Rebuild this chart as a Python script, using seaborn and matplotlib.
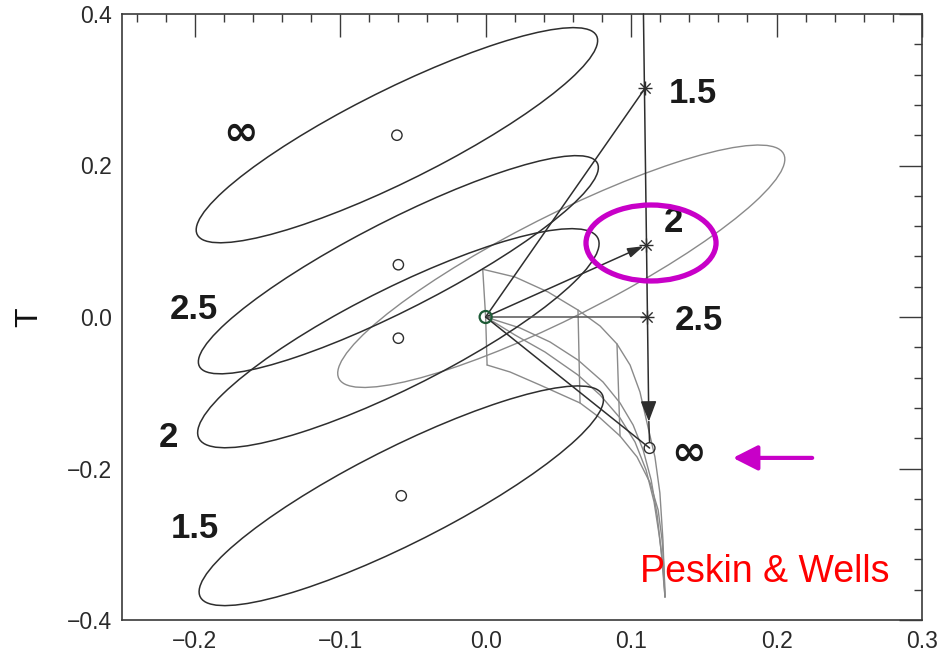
import numpy as np
import pandas as pd
import matplotlib
matplotlib.use("Agg")
import matplotlib.pyplot as plt
from matplotlib.patches import Ellipse
from matplotlib.ticker import FixedLocator, MultipleLocator, FixedFormatter
import seaborn as sns

# Fit contours in the S-T plane, one per cutoff value (centre, spreads, correlation)
fit_labels = ["∞", "2.5", "2", "1.5"]
fit_S = [-0.061, -0.060, -0.060, -0.058]
fit_T = [0.240, 0.069, -0.028, -0.236]
fit_sigS = [0.138, 0.1375, 0.138, 0.139]
fit_sigT = [0.142, 0.144, 0.1446, 0.145]
fit_rho = [0.880, 0.890, 0.863, 0.874]
fit_label_S = [-0.1682, -0.2004, -0.2181, -0.1998]
fit_label_T = [0.2436, -0.003, -0.1712, -0.2921]

# Measured contour (grey)
meas_S, meas_T = 0.052, 0.067
meas_sigS, meas_sigT, meas_rho = 0.1537, 0.160, 0.883

# Shifted reference points reached from the origin
shift_labels = ["1.5", "2", "2.5", "∞"]
shift_S = [0.1096, 0.1103, 0.1112, 0.1127]
shift_T = [0.302, 0.095, 0.0, -0.173]
shift_label_S = [0.1422, 0.1290, 0.1463, 0.1392]
shift_label_T = [0.2821, 0.1126, -0.0172, -0.1789]

# Vertical track through the shifted points
track_S = [0.1085, 0.1122]
track_T = [0.400, -0.138]

# Model grid (grey mesh): four curves and three connecting rungs
grid_top_S = [-0.0020, 0.0202, 0.0429, 0.0635, 0.0787, 0.0903, 0.0993, 0.1061, 0.1116, 0.1164, 0.1198, 0.1219, 0.1233]
grid_top_T = [0.0630, 0.0528, 0.0330, 0.0092, -0.0119, -0.0356, -0.0634, -0.0990, -0.1452, -0.1848, -0.2323, -0.2944, -0.3696]
grid_a_S = [0.0, 0.0237, 0.0443, 0.0635, 0.0807, 0.0924, 0.1014, 0.1083, 0.1138, 0.1179, 0.1206, 0.1233]
grid_a_T = [0.0, -0.0145, -0.0330, -0.0568, -0.0858, -0.1135, -0.1426, -0.1756, -0.2152, -0.2614, -0.3076, -0.3696]
grid_b_S = [0.0, 0.0202, 0.0408, 0.0635, 0.0787, 0.0924, 0.1027, 0.1103, 0.1158, 0.1193, 0.1219, 0.1233]
grid_b_T = [0.0, -0.0238, -0.0462, -0.0766, -0.1030, -0.1333, -0.1650, -0.2020, -0.2442, -0.2878, -0.3274, -0.3696]
grid_bot_S = [0.0010, 0.0168, 0.0374, 0.0649, 0.0787, 0.0924, 0.1041, 0.1131, 0.1186, 0.1213, 0.1227, 0.1233]
grid_bot_T = [-0.0634, -0.0726, -0.0898, -0.1135, -0.1333, -0.1571, -0.1848, -0.2191, -0.2548, -0.2944, -0.3340, -0.3696]
rung_left_S = [-0.0020, 0.0, 0.0010]
rung_left_T = [0.0630, 0.0, -0.0634]
rung_1_S = [0.0635, 0.0649]
rung_1_T = [0.0092, -0.1135]
rung_2_S = [0.0903, 0.0924]
rung_2_T = [-0.0356, -0.1571]

# Highlight annotations
ring_S, ring_T, ring_w, ring_h = 0.1137, 0.0977, 0.0894, 0.1003
pointer_S = [0.2245, 0.170]
pointer_T = -0.186
credit = "Peskin & Wells"
credit_S, credit_T = 0.1060, -0.3494

# Axes
xlim = (-0.25, 0.3)
ylim = (-0.4, 0.4)
xticks = [-0.2, -0.1, 0.0, 0.1, 0.2, 0.3]
xtick_labels = ["−0.2", "−0.1", "0.0", "0.1", "0.2", "0.3"]
yticks = [-0.4, -0.2, 0.0, 0.2, 0.4]
ytick_labels = ["−0.4", "−0.2", "0.0", "0.2", "0.4"]

sns.set_theme(style="white")
plt.rcParams["font.family"] = ["Liberation Sans", "DejaVu Sans"]

DARK = "#2e2e2e"
GREY = "#8a8a8a"
MAGENTA = "#c800c8"

fig = plt.figure(figsize=(9.39, 6.54), dpi=100)
ax = fig.add_axes([122 / 939, 1 - 620 / 654, 800 / 939, 606 / 654])
ax.set_xlim(*xlim)
ax.set_ylim(*ylim)


def corr_ellipse(cx, cy, sx, sy, rho, **kw):
    cov = np.array([[sx * sx, rho * sx * sy], [rho * sx * sy, sy * sy]])
    vals, vecs = np.linalg.eigh(cov)
    ang = np.degrees(np.arctan2(vecs[1, 1], vecs[0, 1]))
    return Ellipse((cx, cy), 2 * np.sqrt(vals[1]), 2 * np.sqrt(vals[0]),
                   angle=ang, fill=False, **kw)


# fit contours
for cx, cy, sx, sy, r in zip(fit_S, fit_T, fit_sigS, fit_sigT, fit_rho):
    ax.add_patch(corr_ellipse(cx, cy, sx, sy, r, ec=DARK, lw=1.1, zorder=3))
ax.add_patch(corr_ellipse(meas_S, meas_T, meas_sigS, meas_sigT, meas_rho,
                          ec=GREY, lw=1.0, zorder=2))

# model grid
for gs, gt in [(grid_top_S, grid_top_T), (grid_a_S, grid_a_T), (grid_b_S, grid_b_T),
               (grid_bot_S, grid_bot_T), (rung_left_S, rung_left_T),
               (rung_1_S, rung_1_T), (rung_2_S, rung_2_T)]:
    sns.lineplot(x=gs, y=gt, sort=False, estimator=None, color=GREY, lw=1.0,
                 ax=ax, zorder=2)

# vertical track with arrow head, continuing to the last point
ax.annotate("", xy=(track_S[1], track_T[1]), xytext=(track_S[0], track_T[0]),
            arrowprops=dict(arrowstyle="-|>,head_length=0.9,head_width=0.35",
                            color=DARK, lw=1.1, shrinkA=0, shrinkB=0,
                            mutation_scale=14), zorder=4)
sns.lineplot(x=[track_S[1], shift_S[3]], y=[track_T[1], shift_T[3] + 0.008],
             sort=False, estimator=None, color=DARK, lw=1.1, ax=ax, zorder=4)

# lines from the origin to each shifted point
for i, (s, t) in enumerate(zip(shift_S, shift_T)):
    if shift_labels[i] == "2":
        ax.annotate("", xy=(s, t), xytext=(0, 0),
                    arrowprops=dict(arrowstyle="-|>,head_length=0.8,head_width=0.25",
                                    color=DARK, lw=1.1, shrinkA=0, shrinkB=2,
                                    mutation_scale=12), zorder=4)
    else:
        col = "#555555" if shift_labels[i] == "2.5" else DARK
        sns.lineplot(x=[0, s], y=[0, t], sort=False, estimator=None, color=col,
                     lw=1.1, ax=ax, zorder=4)

# markers
pts = pd.DataFrame({"S": fit_S, "T": fit_T})
sns.scatterplot(data=pts, x="S", y="T", marker="o", s=55, facecolor="none",
                edgecolor=DARK, linewidth=1.0, ax=ax, zorder=5)
stars = pd.DataFrame({"S": shift_S[:3], "T": shift_T[:3]})
sns.scatterplot(data=stars, x="S", y="T", marker="+", s=90, color=DARK,
                linewidth=1.0, ax=ax, zorder=5)
sns.scatterplot(data=stars, x="S", y="T", marker="x", s=55, color=DARK,
                linewidth=1.0, ax=ax, zorder=5)
sns.scatterplot(x=[shift_S[3]], y=[shift_T[3]], marker="o", s=60, facecolor="none",
                edgecolor=DARK, linewidth=1.0, ax=ax, zorder=5)
sns.scatterplot(x=[0.0], y=[0.0], marker="o", s=75, facecolor="none",
                edgecolor="#1d5a36", linewidth=1.6, ax=ax, zorder=6)

# value labels
for lab, s, t in zip(fit_labels + shift_labels, fit_label_S + shift_label_S,
                     fit_label_T + shift_label_T):
    if lab == "∞":
        ax.text(s, t, lab, fontsize=30, fontweight="bold", family=["DejaVu Sans"],
                ha="center", va="center", color="#1a1a1a", zorder=7)
    else:
        ax.text(s, t, lab, fontsize=25, fontweight="bold", ha="center",
                va="baseline", color="#1a1a1a", zorder=7)

# highlight ring and pointer
ax.add_patch(Ellipse((ring_S, ring_T), ring_w, ring_h, fill=False, ec=MAGENTA,
                     lw=3.8, zorder=8))
ax.annotate("", xy=(pointer_S[1], pointer_T), xytext=(pointer_S[0], pointer_T),
            arrowprops=dict(arrowstyle="-|>,head_length=0.75,head_width=0.38",
                            color=MAGENTA, lw=3, shrinkA=0, shrinkB=0,
                            mutation_scale=20), zorder=8)
ax.text(credit_S, credit_T, credit, color="#ff0000", fontsize=27, ha="left",
        va="baseline", zorder=8)

# axes styling
ax.xaxis.set_major_locator(FixedLocator(xticks))
ax.xaxis.set_major_formatter(FixedFormatter(xtick_labels))
ax.yaxis.set_major_locator(FixedLocator(yticks))
ax.yaxis.set_major_formatter(FixedFormatter(ytick_labels))
ax.xaxis.set_minor_locator(MultipleLocator(0.02))
ax.yaxis.set_minor_locator(MultipleLocator(0.04))
ax.tick_params(which="both", direction="in", top=True, right=True,
               color="#3a3a3a", width=1.0, labelcolor="#2a2a2a")
ax.tick_params(which="major", length=16.5, labelsize=16.5, pad=7)
ax.tick_params(which="minor", length=5.8)
for sp in ax.spines.values():
    sp.set_color("#3a3a3a")
    sp.set_linewidth(1.2)
ax.set_xlabel("")
ax.set_ylabel("T", fontsize=23, color="#111111")
ax.yaxis.set_label_coords(-0.0975, 0.5)
ax.grid(False)

fig.savefig("out.png", dpi=100, facecolor="white")
